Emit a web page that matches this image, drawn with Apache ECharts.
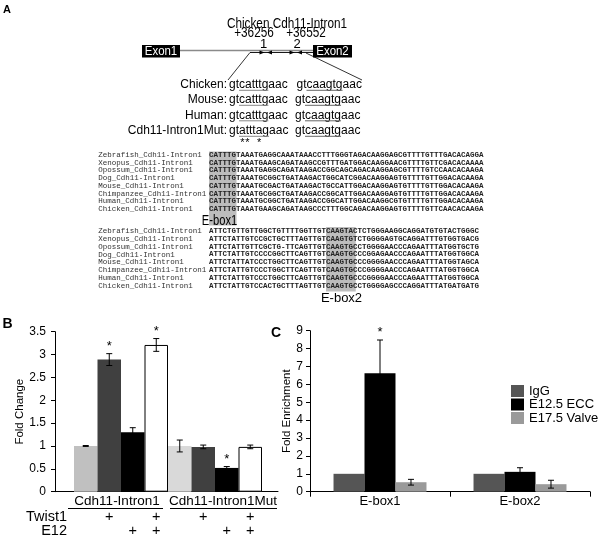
<!DOCTYPE html>
<html><head><meta charset="utf-8">
<script src="https://cdn.jsdelivr.net/npm/echarts@6/dist/echarts.min.js"></script>
<style>html,body{margin:0;padding:0;background:#fff}#c{width:603px;height:538px}</style>
</head><body><div id="c"></div>
<script>
// ---------- Panel B data ----------
const bCategories = ['Cdh11-Intron1', 'Cdh11-Intron1Mut'];
const bSeriesNames = ['Control', 'Twist1', 'E12', 'Twist1+E12'];
const bControl   = [1.00, 1.00];
const bTwist1    = [2.89, 0.98];
const bE12       = [1.30, 0.52];
const bTwistE12  = [3.21, 0.98];
const bControlErr  = [0.01, 0.13];
const bTwist1Err   = [0.13, 0.04];
const bE12Err      = [0.10, 0.03];
const bTwistE12Err = [0.14, 0.04];
const bControlStar  = [0, 0];
const bTwist1Star   = [1, 0];
const bE12Star      = [0, 1];
const bTwistE12Star = [1, 0];
const twist1Marks = [0, 1, 0, 1]; // per bar within each category
const e12Marks    = [0, 0, 1, 1];
const bRowLabels = ['Twist1', 'E12'];

// ---------- Panel C data ----------
const cCategories = ['E-box1', 'E-box2'];
const cSeriesNames = ['IgG', 'E12.5 ECC', 'E17.5 Valve'];
const cIgG   = [1.00, 1.00];
const cECC   = [6.62, 1.11];
const cValve = [0.53, 0.42];
const cIgGErr   = [0, 0];
const cECCErr   = [1.86, 0.23];
const cValveErr = [0.16, 0.22];
const cIgGStar   = [0, 0];
const cECCStar   = [1, 0];
const cValveStar = [0, 0];

// ---------- Panel A text ----------
const speciesShort = ['Chicken:', 'Mouse:', 'Human:', 'Cdh11-Intron1Mut:'];
const site1Seq = ['gtcatttgaac', 'gtcatttgaac', 'gtcatttgaac', 'gtatttagaac'];
const site2Seq = ['gtcaagtgaac', 'gtcaagtgaac', 'gtcaagtgaac', 'gtcaagtgaac'];
const alignNames = ['Zebrafish_Cdh11-Intron1','Xenopus_Cdh11-Intron1','Opossum_Cdh11-Intron1','Dog_Cdh11-Intron1','Mouse_Cdh11-Intron1','Chimpanzee_Cdh11-Intron1','Human_Cdh11-Intron1','Chicken_Cdh11-Intron1'];
const alignBlock1 = [
 'CATTTGTAAATGAGGCAAATAAACCTTTGGGTAGACAAGGAGCGTTTTGTTTGACACAGGA',
 'CATTTGTAAATGAAGCAGATAAGCCGTTTGATGGACAAGGAACGTTTTGTTCGACACAAAA',
 'CATTTGTAAATGAGGCAGATAAGACCGGCAGCAGACAAGGAGCGTTTTGTCCAACACAAGA',
 'CATTTGTAAATGCGGCTGATAAGACTGGCATCGGACAAGGAGTGTTTTGTTGGACACAAGA',
 'CATTTGTAAATGCGACTGATAAGACTGCCATTGGACAAGGAGTGTTTTGTTGGACACAAGA',
 'CATTTGTAAATGCGGCTGATAAGACCGGCATTGGACAAGGAGTGTTTTGTTGGACACAAGA',
 'CATTTGTAAATGCGGCTGATAAGACCGGCATTGGACAAGGCGTGTTTTGTTGGACACAAGA',
 'CATTTGTAAATGAAGCAGATAAGCCCTTTGGCAGACAAGGAGTGTTTTGTTCAACACAAGA'];
const alignBlock2 = [
 'ATTCTGTTGTTGGCTGTTTTGGTTGTCAAGTACTCTGGGAAGGCAGGATGTGTACTGGGC',
 'ATTCTATTGTCCGCTGCTTTAGTTGTCAAGTGTCTGGGGAGTGCAGGATTTGTGGTGACG',
 'ATTCTATTGTTCGCTG-TTCAGTTGTCAAGTGCCTGGGGAACCCAGAATTTATGGTGCTG',
 'ATTCTATTGTCCCCGGCTTCAGTTGTCAAGTGCCCGGAGAACCCAGAATTTATGGTGGCA',
 'ATTCTATTATCCCTGGCTTCAGTTGTCAAGTGCCCGGGGAACCCAGAATTTATGGTAGCA',
 'ATTCTATTGTCCCTGGCTTCAGTTGTCAAGTGCCCGGGGAACCCAGAATTTATGGTGGCA',
 'ATTCTATTGTCCCTGGCTTCAGTTGTCAAGTGCCCGGGGAACCCAGAATTTATGGTGGCA',
 'ATTCTATTGTCCACTGCTTTAGTTGTCAAGTGCCTGGGGAGCCCAGGATTTATGATGATG'];

// ---------- helpers ----------
const SANS = '"Liberation Sans", Arial, sans-serif';
const MONO = '"Liberation Mono", "Courier New", monospace';
const mctx = document.createElement('canvas').getContext('2d');
function tw(text, font) { mctx.font = font; return mctx.measureText(text).width; }
function T(x, y, text, o) {
  o = o || {};
  const el = { type: 'text', x: x, y: y, silent: true,
    style: { text: text, font: o.font || ('12px ' + SANS), fill: o.fill || '#000',
      align: o.align || 'left', verticalAlign: o.va || 'middle' } };
  if (o.sx) { el.scaleX = o.sx; }
  return el;
}
function L(x1, y1, x2, y2, c, w) {
  return { type: 'line', silent: true, shape: { x1, y1, x2, y2 }, style: { stroke: c || '#000', lineWidth: w || 1 } };
}
function R(x, y, w, h, c) {
  return { type: 'rect', silent: true, shape: { x, y, width: w, height: h }, style: { fill: c } };
}
function P(pts, c) { return { type: 'polygon', silent: true, shape: { points: pts }, style: { fill: c || '#000' } }; }

const G = [];
// panel letters
G.push(T(7, 9.5, 'A', { font: 'bold 11px ' + SANS, align: 'center' }));
G.push(T(7.5, 324.5, 'B', { font: 'bold 14px ' + SANS, align: 'center' }));
G.push(T(276, 333.5, 'C', { font: 'bold 14px ' + SANS, align: 'center' }));

// gene diagram
G.push(T(287, 24, 'Chicken Cdh11-Intron1', { font: '14px ' + SANS, align: 'center', sx: 0.84 }));
G.push(T(254, 33.5, '+36256', { font: '14px ' + SANS, align: 'center', sx: 0.84 }));
G.push(T(306, 33.5, '+36552', { font: '14px ' + SANS, align: 'center', sx: 0.84 }));
G.push(T(263.5, 44, '1', { font: '13px ' + SANS, align: 'center' }));
G.push(T(297, 44, '2', { font: '13px ' + SANS, align: 'center' }));
G.push(L(180, 50.5, 313, 50.5, '#8a8a8a', 1.6));
G.push(L(250, 52.5, 313, 52.5, '#000', 0.9));
G.push(R(142, 45, 38, 12.5, '#000'));
G.push(R(313, 45, 39, 12.5, '#000'));
G.push(T(161, 51.3, 'Exon1', { font: '13px ' + SANS, fill: '#fff', align: 'center', sx: 0.88 }));
G.push(T(332.5, 51.3, 'Exon2', { font: '13px ' + SANS, fill: '#fff', align: 'center', sx: 0.88 }));
// primer arrow heads
G.push(P([[259.5, 50.5], [264.5, 52.5], [259.5, 54.5]]));
G.push(P([[272, 50.5], [267, 52.5], [272, 54.5]]));
G.push(P([[289.5, 50.5], [294.5, 52.5], [289.5, 54.5]]));
G.push(P([[302, 50.5], [297, 52.5], [302, 54.5]]));
G.push(L(250, 52.5, 228, 80, '#000', 0.8));
G.push(L(306, 53, 362, 80, '#000', 0.8));

// sequence rows
const rowY = [85, 100, 115.5, 131];
const seqFont = '12px ' + SANS;
const c1x = 229, c2x = 295;
for (let i = 0; i < 4; i++) {
  G.push(T(227, rowY[i], speciesShort[i], { font: seqFont, align: 'right' }));
  G.push(T(c1x, rowY[i], site1Seq[i], { font: seqFont }));
  const off = (i === 0 ? 1.5 : 0);
  G.push(T(c2x + off, rowY[i], site2Seq[i], { font: seqFont }));
  const s1 = c1x + tw(site1Seq[i].slice(0, 2), seqFont), e1 = c1x + tw(site1Seq[i].slice(0, 8), seqFont);
  G.push(L(s1, rowY[i] + 5.3, e1, rowY[i] + 5.3, '#888', 1));
  const s2 = c2x + off + tw(site2Seq[i].slice(0, 2), seqFont), e2 = c2x + off + tw(site2Seq[i].slice(0, 8), seqFont);
  G.push(L(s2, rowY[i] + 5.3, e2, rowY[i] + 5.3, '#666', 1));
}
// mutation asterisks under positions 3,4,7
[2, 3, 6].forEach(function (k) {
  const cx = c1x + tw(site1Seq[3].slice(0, k), seqFont) + tw(site1Seq[3][k], seqFont) / 2;
  G.push(T(cx, 143, '*', { font: '11px ' + SANS, align: 'center' }));
});

// alignment
const monoFont = '7.5px ' + MONO;
const monoBold = 'bold 7.5px ' + MONO;
const cw = tw('A', monoFont);
const seqX = 209, nameX = 98.3;
G.push(R(seqX, 151.5, cw * 6 + 0.5, 74, '#bdbdbd'));
G.push(R(seqX + cw * 26, 227, cw * 6.6, 64.5, '#bdbdbd'));
for (let i = 0; i < 8; i++) {
  const y1 = 155 + i * 7.75, y2 = 231 + i * 7.85;
  G.push(T(nameX, y1, alignNames[i], { font: monoFont, fill: '#333' }));
  G.push(T(seqX, y1, alignBlock1[i], { font: monoBold, fill: '#222' }));
  G.push(T(nameX, y2, alignNames[i], { font: monoFont, fill: '#333' }));
  G.push(T(seqX, y2, alignBlock2[i], { font: monoBold, fill: '#222' }));
}
G.push(T(219.5, 221.5, 'E-box1', { font: '14px ' + SANS, align: 'center', sx: 0.8 }));
G.push(T(341.5, 298.5, 'E-box2', { font: '13px ' + SANS, align: 'center' }));

// panel B annotations below axis
G.push(L(68, 508.5, 163, 508.5, '#000', 1));
G.push(L(170, 508.5, 277, 508.5, '#000', 1));
G.push(T(67, 516.7, bRowLabels[0], { font: '14.5px ' + SANS, align: 'right' }));
G.push(T(67, 530.5, bRowLabels[1], { font: '14.5px ' + SANS, align: 'right' }));

// ---------- series builders ----------
function errSeries(xi, yi, vals, errs, stars, barIdx, nBars, gapFrac) {
  return {
    type: 'custom', xAxisIndex: xi, yAxisIndex: yi, z: 10, silent: true,
    encode: { x: 0, y: 1 },
    data: vals.map(function (v, i) { return [i, v, errs[i], stars[i]]; }),
    renderItem: function (params, api) {
      const ci = api.value(0), v = api.value(1), e = api.value(2), s = api.value(3);
      const catW = api.size([1, 0])[0];
      const bw = catW * (1 - gapFrac) / nBars;
      const c = api.coord([ci, v]);
      const x = c[0] + (barIdx - (nBars - 1) / 2) * bw;
      const top = api.coord([ci, v + e])[1], bot = api.coord([ci, v - e])[1];
      const ch = [];
      if (e > 0) {
        const st = { stroke: '#000', lineWidth: 1 };
        ch.push({ type: 'line', shape: { x1: x, y1: top, x2: x, y2: bot }, style: st });
        ch.push({ type: 'line', shape: { x1: x - 3, y1: top, x2: x + 3, y2: top }, style: st });
        ch.push({ type: 'line', shape: { x1: x - 3, y1: bot, x2: x + 3, y2: bot }, style: st });
      }
      if (s) {
        ch.push({ type: 'text', x: x, y: top - 1, style: { text: '*', font: '13px ' + SANS, fill: '#000', align: 'center', verticalAlign: 'bottom' } });
      }
      return { type: 'group', children: ch };
    }
  };
}
function markSeries(marks, yPix, xi, yi) {
  const data = [];
  for (let c = 0; c < bCategories.length; c++) for (let b = 0; b < 4; b++) if (marks[b]) data.push([c, 0, b]);
  return {
    type: 'custom', xAxisIndex: xi, yAxisIndex: yi, silent: true, encode: { x: 0, y: 1 },
    data: data,
    renderItem: function (params, api) {
      const ci = api.value(0), b = api.value(2);
      const bw = api.size([1, 0])[0] / 4;
      const x = api.coord([ci, 0])[0] + (b - 1.5) * bw;
      return { type: 'text', x: x, y: yPix, style: { text: '+', font: '14.5px ' + SANS, fill: '#000', align: 'center', verticalAlign: 'middle' } };
    }
  };
}

const bVals = [bControl, bTwist1, bE12, bTwistE12];
const bErrs = [bControlErr, bTwist1Err, bE12Err, bTwistE12Err];
const bStars = [bControlStar, bTwist1Star, bE12Star, bTwistE12Star];
const bStyles = [
  { color: '#c0c0c0' },
  { color: '#404040' },
  { color: '#000000' },
  { color: '#ffffff', borderColor: '#000', borderWidth: 1 }
];
const cVals = [cIgG, cECC, cValve];
const cErrs = [cIgGErr, cECCErr, cValveErr];
const cStars = [cIgGStar, cECCStar, cValveStar];
const cColors = ['#555555', '#000000', '#9a9a9a'];

const series = [];
bVals.forEach(function (vals, k) {
  series.push({
    type: 'bar', name: bSeriesNames[k], xAxisIndex: 0, yAxisIndex: 0,
    barGap: '0%', barCategoryGap: '0%', silent: true,
    itemStyle: bStyles[k],
    data: vals.map(function (v, i) {
      if (k === 0 && i === 1) return { value: v, itemStyle: { color: '#d9d9d9' } };
      return v;
    })
  });
});
bVals.forEach(function (vals, k) { series.push(errSeries(0, 0, vals, bErrs[k], bStars[k], k, 4, 0)); });
series.push(markSeries(twist1Marks, 516.7, 0, 0));
series.push(markSeries(e12Marks, 530.5, 0, 0));

const cGap = 0.336;
cVals.forEach(function (vals, k) {
  series.push({
    type: 'bar', name: cSeriesNames[k], xAxisIndex: 2, yAxisIndex: 2,
    barGap: '0%', barCategoryGap: (cGap * 100) + '%', silent: true,
    itemStyle: { color: cColors[k] }, data: vals
  });
});
cVals.forEach(function (vals, k) { series.push(errSeries(2, 2, vals, cErrs[k], cStars[k], k, 3, cGap)); });

const option = {
  animation: false,
  backgroundColor: '#fff',
  graphic: { elements: G },
  legend: {
    data: cSeriesNames, orient: 'vertical', left: 511, top: 384.5, padding: 0,
    itemWidth: 13, itemHeight: 12, itemGap: 0.5, icon: 'rect', selectedMode: false,
    textStyle: { color: '#000', fontSize: 13, fontFamily: SANS, lineHeight: 12.5 }
  },
  grid: [
    { left: 74, top: 331.7, width: 188, height: 160 },   // B bars
    { left: 55, top: 331.7, width: 223, height: 160 },   // B axes
    { left: 310, top: 330.7, width: 280, height: 161 }   // C
  ],
  xAxis: [
    { type: 'category', gridIndex: 0, data: bCategories,
      axisLine: { show: false }, axisTick: { show: false },
      axisLabel: { interval: 0, hideOverlap: false, margin: 3, fontSize: 13.5, color: '#000', fontFamily: SANS,
        formatter: function (v, i) { return i === 0 ? '{p|' + v + '}' : '{q|' + v + '}'; },
        rich: { p: { fontSize: 13.5, fontFamily: SANS, color: '#000', padding: [0, 8, 0, 0] },
                q: { fontSize: 13.5, fontFamily: SANS, color: '#000', padding: [0, 0, 0, 16] } } } },
    { type: 'value', gridIndex: 1, min: 0, max: 1,
      axisLine: { show: true, lineStyle: { color: '#000', width: 1 } },
      axisTick: { show: false }, axisLabel: { show: false }, splitLine: { show: false } },
    { type: 'category', gridIndex: 2, data: cCategories,
      axisLine: { lineStyle: { color: '#000', width: 1 } },
      axisTick: { show: true, length: 5, lineStyle: { color: '#000' } },
      axisLabel: { interval: 0, margin: 3, fontSize: 13, color: '#000', fontFamily: SANS } }
  ],
  yAxis: [
    { type: 'value', gridIndex: 0, min: 0, max: 3.5, interval: 0.5, show: false },
    { type: 'value', gridIndex: 1, min: 0, max: 3.5, interval: 0.5,
      name: 'Fold Change', nameLocation: 'middle', nameGap: 22, nameRotate: 90,
      nameTextStyle: { fontSize: 11.5, color: '#000', fontFamily: SANS },
      axisLine: { show: true, lineStyle: { color: '#000', width: 1 } },
      axisTick: { show: true, length: 4, lineStyle: { color: '#000' } },
      axisLabel: { margin: 9, fontSize: 12, color: '#000', fontFamily: SANS },
      splitLine: { show: false } },
    { type: 'value', gridIndex: 2, min: 0, max: 9, interval: 1,
      name: 'Fold Enrichment', nameLocation: 'middle', nameGap: 16, nameRotate: 90,
      nameTextStyle: { fontSize: 11.5, color: '#000', fontFamily: SANS },
      axisLine: { show: true, lineStyle: { color: '#000', width: 1 } },
      axisTick: { show: true, length: 4, lineStyle: { color: '#000' } },
      axisLabel: { margin: 7, fontSize: 12, color: '#000', fontFamily: SANS },
      splitLine: { show: false } }
  ],
  series: series
};
const chart = echarts.init(document.getElementById('c'), null, { renderer: 'canvas' });
chart.setOption(option);
</script>
</body></html>
